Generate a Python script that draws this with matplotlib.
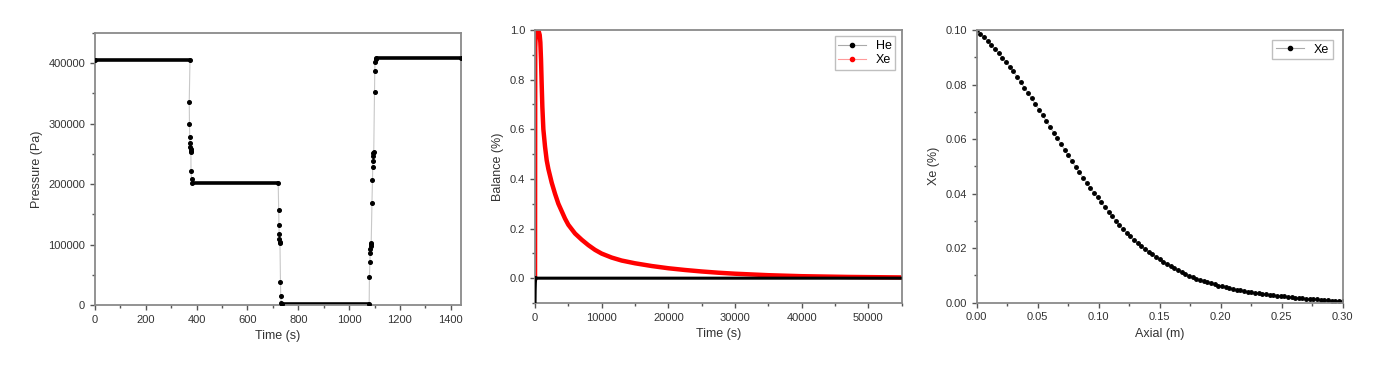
import numpy as np
import matplotlib
matplotlib.use("Agg")
import matplotlib.pyplot as plt
from matplotlib.ticker import MultipleLocator, FormatStrFormatter
from matplotlib.lines import Line2D

plt.rcParams['font.family'] = ['Liberation Sans', 'DejaVu Sans']

# --- panel 1: pressure steps ---
time_p = [0, 374, 371, 372, 373, 374, 375, 376, 377, 377.5, 378, 380, 382,
          721, 723, 724, 725, 726, 727, 728, 730, 731, 733, 735,
          1079, 1080, 1082, 1083, 1084, 1085, 1086, 1087, 1090, 1092, 1093,
          1094, 1095, 1096, 1097, 1100, 1101, 1102, 1104, 1106, 1440]
pressure = [405000, 405000, 336700, 298800, 277900, 268000, 262000, 258000, 255000,
            253000, 221200, 209000, 202500,
            202500, 156800, 132000, 118300, 110000, 105000, 102000, 38500, 14900, 3900, 1500,
            1500, 46800, 71500, 85300, 93500, 98000, 101000, 103000, 169500, 207400, 228300,
            239000, 247000, 251000, 253000, 352100, 387900, 401600, 407000, 408800, 408800]
# plateaus (start, end, level)
plat_start = [0, 382, 735, 1106]
plat_end = [374, 721, 1079, 1440]
plat_level = [405000, 202500, 1500, 408800]

# --- panel 2: balance ---
time_b = [0, 30, 100, 250, 500, 700, 800, 900, 1000, 1100, 1250, 1500, 1750, 2000,
          2500, 3000, 3500, 4000, 4500, 5000, 6000, 7000, 8000, 9000, 10000, 11500,
          13000, 15000, 17500, 20000, 22500, 25000, 27500, 30000, 35000, 40000,
          47000, 55000]
xe_bal = [0.0, 0.93, 0.98, 1.0, 1.0, 0.98, 0.95, 0.88, 0.78, 0.69, 0.60, 0.53, 0.475,
          0.44, 0.385, 0.34, 0.30, 0.27, 0.24, 0.215, 0.18, 0.155, 0.133, 0.114, 0.099,
          0.083, 0.071, 0.060, 0.049, 0.040, 0.033, 0.027, 0.022, 0.018, 0.012, 0.008,
          0.005, 0.003]
time_he = [0, 20, 50, 100, 300, 55000]
he_bal = [-0.1, -0.05, -0.02, 0.003, 0.0, 0.0]

# --- panel 3: Xe along axis ---
axial = np.linspace(0, 0.30, 101)
xe_ax = [.1000, .0987, .0973, .0960, .0945, .0930, .0915, .0899, .0883, .0866,
         .0848, .0829, .0809, .0789, .0769, .0749, .0728, .0708, .0687, .0666,
         .0645, .0624, .0603, .0582, .0561, .0540, .0519, .0498, .0479, .0459,
         .0440, .0422, .0404, .0386, .0368, .0351, .0334, .0317, .0301, .0285,
         .0270, .0256, .0243, .0230, .0218, .0207, .0197, .0187, .0178, .0169,
         .0160, .0151, .0142, .0134, .0126, .0119, .0112, .0105, .0099, .0094,
         .0088, .0084, .0079, .0075, .0071, .0067, .0063, .0060, .0057, .0054,
         .0051, .0048, .0045, .0043, .0040, .0038, .0036, .0034, .0032, .0031,
         .0029, .0027, .0026, .0024, .0023, .0021, .0020, .0019, .0017, .0016,
         .0015, .0014, .0013, .0012, .0011, .0010, .0009, .0008, .0007, .0007,
         .0006]

txt = '#333333'
spine = '#8a8a8a'

fig = plt.figure(figsize=(13.8, 3.67), dpi=100)
ax1 = fig.add_axes([0.0688, 0.1689, 0.2652, 0.7411])
ax2 = fig.add_axes([0.3877, 0.1744, 0.2657, 0.7439])
ax3 = fig.add_axes([0.7078, 0.1752, 0.2652, 0.7431])


def style(ax):
    for s in ax.spines.values():
        s.set_color(spine)
        s.set_linewidth(1.3)
    ax.tick_params(which='both', direction='out', colors='#555555', labelcolor=txt,
                   labelsize=8, top=False, right=False)
    ax.tick_params(which='major', length=3.5, width=1)
    ax.tick_params(which='minor', length=2, width=1)


# panel 1
ax1.plot(time_p, pressure, color='#c8c8c8', lw=0.8, zorder=1)
ax1.hlines(plat_level, plat_start, plat_end, color='black', lw=2.6, zorder=2)
ax1.plot(time_p, pressure, 'o', color='black', ms=2.6, zorder=3)
ax1.set_xlim(0, 1440)
ax1.set_ylim(0, 450000)
ax1.xaxis.set_major_locator(MultipleLocator(200))
ax1.xaxis.set_minor_locator(MultipleLocator(100))
ax1.yaxis.set_major_locator(MultipleLocator(100000))
ax1.yaxis.set_minor_locator(MultipleLocator(50000))
ax1.set_xlabel('Time (s)', fontsize=9, color=txt)
ax1.set_ylabel('Pressure (Pa)', fontsize=9, color=txt)
style(ax1)

# panel 2
ax2.plot(time_he, he_bal, color='black', lw=2.2, solid_capstyle='butt', zorder=3)
ax2.plot(time_b, xe_bal, color='red', lw=3.2, solid_joinstyle='round', zorder=2)
ax2.set_xlim(0, 55000)
ax2.set_ylim(-0.1, 1.0)
ax2.xaxis.set_major_locator(MultipleLocator(10000))
ax2.xaxis.set_minor_locator(MultipleLocator(5000))
ax2.yaxis.set_major_locator(MultipleLocator(0.2))
ax2.yaxis.set_minor_locator(MultipleLocator(0.1))
ax2.yaxis.set_major_formatter(FormatStrFormatter('%.1f'))
ax2.set_xlabel('Time (s)', fontsize=9, color=txt)
ax2.set_ylabel('Balance (%)', fontsize=9, color=txt)
handles = [Line2D([], [], color='#aaaaaa', lw=0.8, marker='o', ms=3, mfc='black', mec='black'),
           Line2D([], [], color='#ff9a9a', lw=0.8, marker='o', ms=3, mfc='red', mec='red')]
leg = ax2.legend(handles, ['He', 'Xe'], loc='upper right', fontsize=9, frameon=True,
                 fancybox=False, borderpad=0.3, handlelength=2.2, labelspacing=0.2,
                 borderaxespad=0.5)
leg.get_frame().set_edgecolor('#b0b0b0')
style(ax2)

# panel 3
ax3.plot(axial, xe_ax, color='#bbbbbb', lw=0.7, zorder=1)
ax3.plot(axial, xe_ax, 'o', color='black', ms=2.5, zorder=2)
ax3.set_xlim(0, 0.30)
ax3.set_ylim(0, 0.10)
ax3.xaxis.set_major_locator(MultipleLocator(0.05))
ax3.xaxis.set_minor_locator(MultipleLocator(0.025))
ax3.yaxis.set_major_locator(MultipleLocator(0.02))
ax3.yaxis.set_minor_locator(MultipleLocator(0.01))
ax3.xaxis.set_major_formatter(FormatStrFormatter('%.2f'))
ax3.yaxis.set_major_formatter(FormatStrFormatter('%.2f'))
ax3.set_xlabel('Axial (m)', fontsize=9, color=txt)
ax3.set_ylabel('Xe (%)', fontsize=9, color=txt)
h3 = [Line2D([], [], color='#aaaaaa', lw=0.8, marker='o', ms=3, mfc='black', mec='black')]
leg3 = ax3.legend(h3, ['Xe'], loc='upper right', fontsize=9, frameon=True,
                  fancybox=False, borderpad=0.3, handlelength=2.2, borderaxespad=0.8)
leg3.get_frame().set_edgecolor('#b0b0b0')
style(ax3)

fig.savefig('out.png', dpi=100)
